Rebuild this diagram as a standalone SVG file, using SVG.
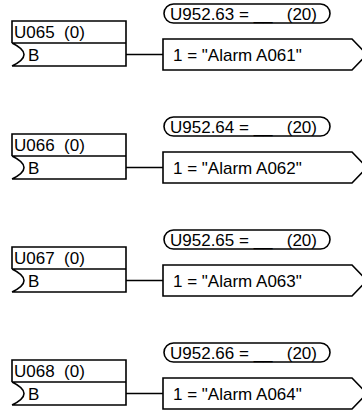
<svg xmlns="http://www.w3.org/2000/svg" width="362" height="411" viewBox="0 0 362 411">
<defs>
<style>
.ln{fill:none;stroke:#000;stroke-width:1.6}
.bx{fill:#fff;stroke:#000;stroke-width:1.6}
.t{font-family:"Liberation Sans",Arial,sans-serif;font-size:17px;fill:#000;white-space:pre}
</style>
</defs>
<g id="connectors">
  <line class="ln" x1="126" y1="54.5" x2="163" y2="54.5"/>
  <line class="ln" x1="126" y1="167.5" x2="163" y2="167.5"/>
  <line class="ln" x1="126" y1="280.5" x2="163" y2="280.5"/>
  <line class="ln" x1="126" y1="393.5" x2="163" y2="393.5"/>
</g>
<g id="g1" transform="translate(0,0)">
  <g id="U065">
    <path class="ln" d="M12,43 V21 H126 V66 H12 M12,43 H126 M12,43 Q36,54.5 12,66"/>
    <text class="t" x="14" y="38" xml:space="preserve">U065  (0)</text>
    <text class="t" x="28" y="60.5">B</text>
  </g>
  <g id="U952_63">
    <rect class="bx" x="164" y="4" width="166" height="19" rx="9.5" ry="9.5"/>
    <text class="t" x="170" y="19.6" xml:space="preserve">U952.63 = __   (20)</text>
  </g>
  <g id="A061">
    <path class="bx" d="M163,39 H352 L367,54.5 L352,70 H163 Z"/>
    <text class="t" x="173" y="60.6">1 = "Alarm A061"</text>
  </g>
</g>
<g id="g2" transform="translate(0,113)">
  <g id="U066">
    <path class="ln" d="M12,43 V21 H126 V66 H12 M12,43 H126 M12,43 Q36,54.5 12,66"/>
    <text class="t" x="14" y="38" xml:space="preserve">U066  (0)</text>
    <text class="t" x="28" y="60.5">B</text>
  </g>
  <g id="U952_64">
    <rect class="bx" x="164" y="4" width="166" height="19" rx="9.5" ry="9.5"/>
    <text class="t" x="170" y="19.6" xml:space="preserve">U952.64 = __   (20)</text>
  </g>
  <g id="A062">
    <path class="bx" d="M163,39 H352 L367,54.5 L352,70 H163 Z"/>
    <text class="t" x="173" y="60.6">1 = "Alarm A062"</text>
  </g>
</g>
<g id="g3" transform="translate(0,226)">
  <g id="U067">
    <path class="ln" d="M12,43 V21 H126 V66 H12 M12,43 H126 M12,43 Q36,54.5 12,66"/>
    <text class="t" x="14" y="38" xml:space="preserve">U067  (0)</text>
    <text class="t" x="28" y="60.5">B</text>
  </g>
  <g id="U952_65">
    <rect class="bx" x="164" y="4" width="166" height="19" rx="9.5" ry="9.5"/>
    <text class="t" x="170" y="19.6" xml:space="preserve">U952.65 = __   (20)</text>
  </g>
  <g id="A063">
    <path class="bx" d="M163,39 H352 L367,54.5 L352,70 H163 Z"/>
    <text class="t" x="173" y="60.6">1 = "Alarm A063"</text>
  </g>
</g>
<g id="g4" transform="translate(0,339)">
  <g id="U068">
    <path class="ln" d="M12,43 V21 H126 V66 H12 M12,43 H126 M12,43 Q36,54.5 12,66"/>
    <text class="t" x="14" y="38" xml:space="preserve">U068  (0)</text>
    <text class="t" x="28" y="60.5">B</text>
  </g>
  <g id="U952_66">
    <rect class="bx" x="164" y="4" width="166" height="19" rx="9.5" ry="9.5"/>
    <text class="t" x="170" y="19.6" xml:space="preserve">U952.66 = __   (20)</text>
  </g>
  <g id="A064">
    <path class="bx" d="M163,39 H352 L367,54.5 L352,70 H163 Z"/>
    <text class="t" x="173" y="60.6">1 = "Alarm A064"</text>
  </g>
</g>
</svg>
